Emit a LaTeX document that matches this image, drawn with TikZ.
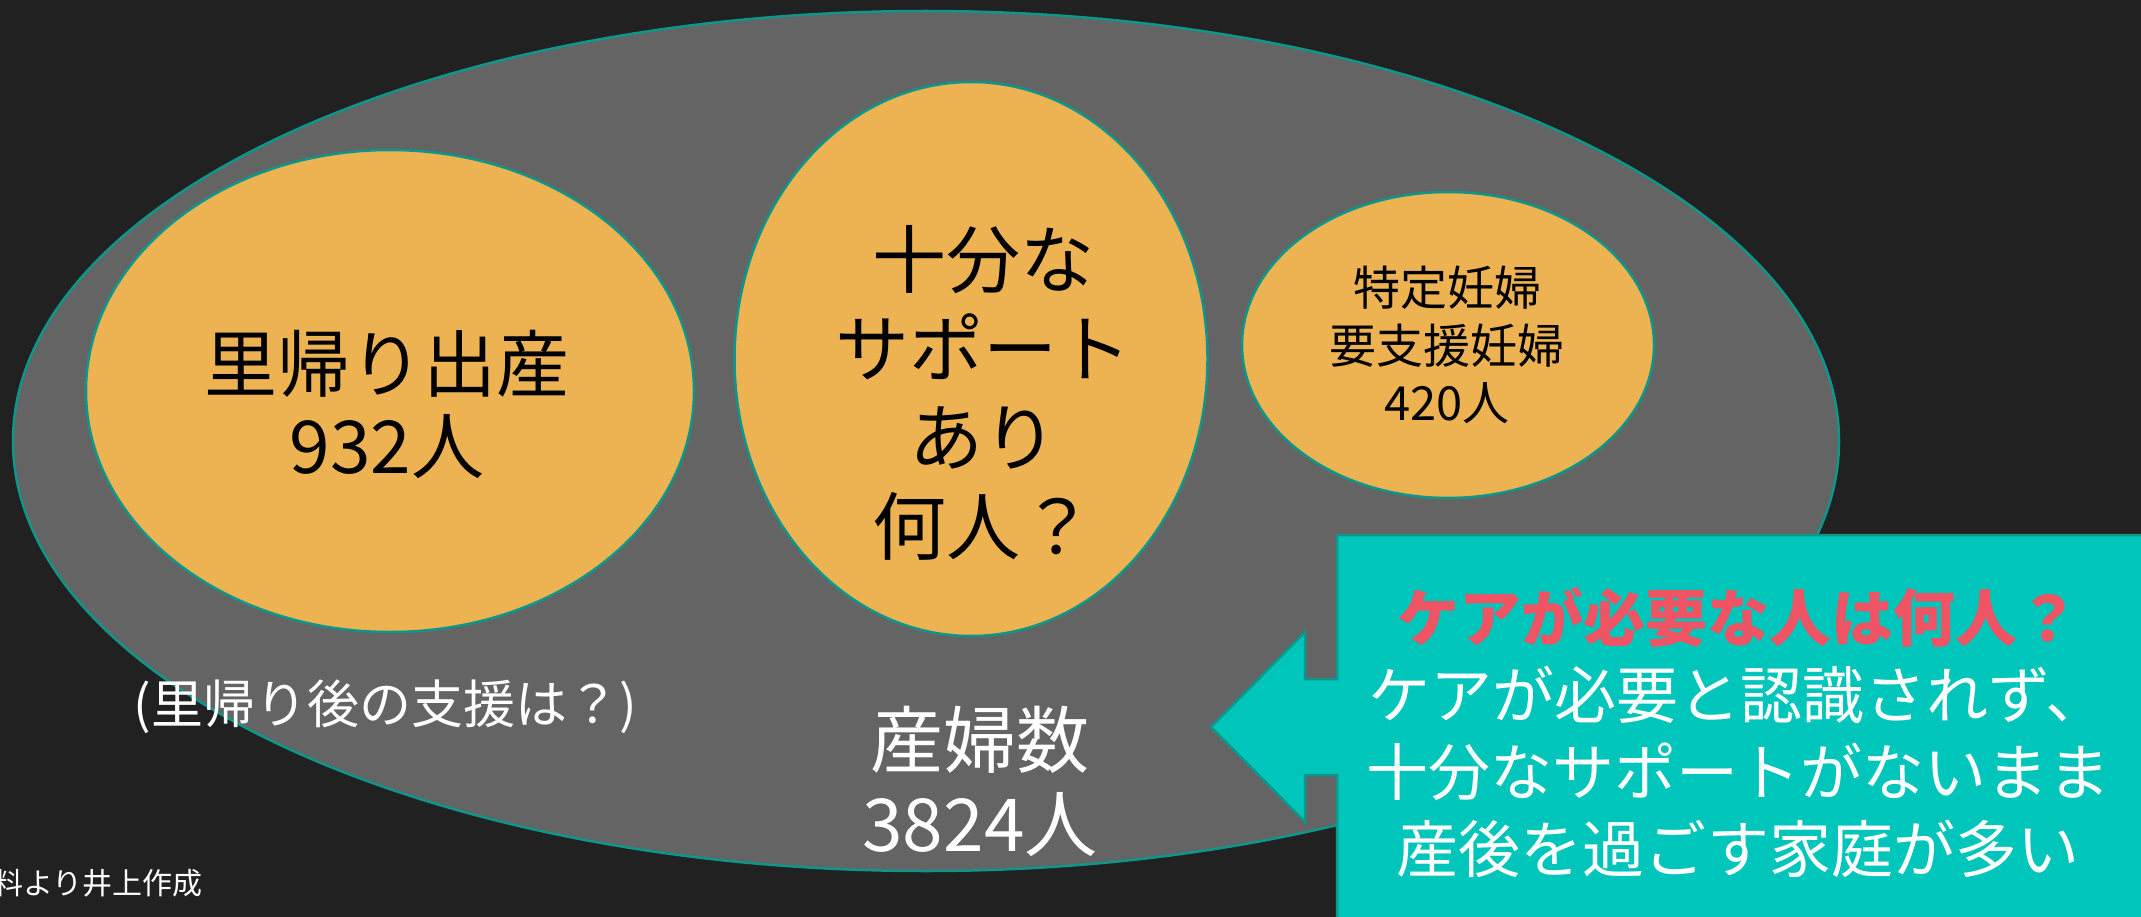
\documentclass[tikz,border=0pt]{standalone}
\usepackage{fontspec}
\setmainfont{Noto Sans CJK JP}
\usetikzlibrary{shapes.geometric}
\definecolor{bgc}{HTML}{212121}
\definecolor{grayfill}{HTML}{646464}
\definecolor{orangefill}{HTML}{EDB352}
\definecolor{tealline}{HTML}{0E968A}
\definecolor{calloutfill}{HTML}{00C5BB}
\definecolor{redtext}{HTML}{EE5463}
\tikzset{
  oval/.style={ellipse, draw=tealline, line width=2.5pt, inner sep=0pt},
  bigoval/.style={oval, fill=grayfill},
  smalloval/.style={oval, fill=orangefill},
  blacktext/.style={text=black, align=center, inner sep=0pt},
  whitetext/.style={text=white, align=center, inner sep=0pt},
}
\begin{document}
\begin{tikzpicture}[x=1pt,y=-1pt]
\fill[bgc] (0,0) rectangle (2141,917);
\useasboundingbox (0,0) rectangle (2141,917);
% outer ellipse
\node[bigoval, minimum width=1826pt, minimum height=860pt] (all) at (926,441) {};
% inner ellipses
\node[smalloval, minimum width=608pt, minimum height=482pt] (satogaeri) at (390,391) {};
\node[smalloval, minimum width=473pt, minimum height=554pt] (support) at (971,359) {};
\node[smalloval, minimum width=412pt, minimum height=306pt] (tokutei) at (1448,345) {};
% texts
\node[blacktext, font=\fontsize{73}{82}\selectfont] (t1) at (387,404) {里帰り出産\\932人};
\node[blacktext, font=\fontsize{74}{89}\selectfont] (t2) at (983,393) {十分な\\サポート\\あり\\何人？};
\node[blacktext, font=\fontsize{47}{57.5}\selectfont] (t3) at (1447,345) {特定妊婦\\要支援妊婦\\420人};
\node[whitetext, font=\fontsize{52}{60}\selectfont] (t4) at (385,707) {(里帰り後の支援は？)};
\node[whitetext, font=\fontsize{73}{84}\selectfont] (t5) at (980,781) {産婦数\\3824人};
\node[whitetext, font=\fontsize{30}{36}\selectfont, anchor=east] (t6) at (203,883) {料より井上作成};
% callout
\coordinate (tip) at (1211,727);
\draw[fill=calloutfill, draw=tealline, line width=2.5pt]
  (1337,535) -- (2160,535) -- (2160,940) -- (1337,940) -- (1337,775)
  -- (1305,775) -- (1305,822) -- (tip) -- (1305,632) -- (1305,679)
  -- (1337,679) -- cycle;
\node[whitetext, font=\fontsize{62}{77}\selectfont] (t7) at (1738,732)
  {\textcolor{redtext}{\bfseries ケアが必要な人は何人？}\\ケアが必要と認識されず、\\十分なサポートがないまま\\産後を過ごす家庭が多い};
\end{tikzpicture}
\end{document}
